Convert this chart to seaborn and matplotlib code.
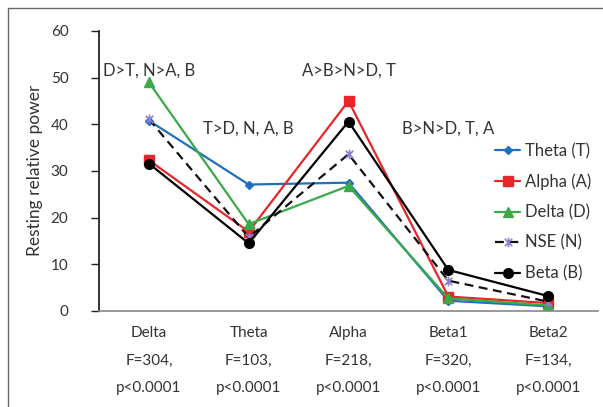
import matplotlib
matplotlib.use("Agg")
import matplotlib.pyplot as plt
import seaborn as sns
import pandas as pd
from matplotlib.path import Path
from matplotlib.lines import Line2D

# Frequency bands on the x axis, with their F / p statistics
bands = ["Delta", "Theta", "Alpha", "Beta1", "Beta2"]
f_stats = ["F=304,", "F=103,", "F=218,", "F=320,", "F=134,"]
p_stats = ["p<0.0001"] * 5

# Resting relative power per group
theta_vals = [40.8, 27.1, 27.5, 2.2, 1.0]
alpha_vals = [32.3, 17.0, 45.0, 3.1, 1.7]
delta_vals = [49.0, 18.6, 26.8, 2.7, 1.2]
nse_vals = [41.1, 15.8, 33.6, 6.5, 2.0]
beta_vals = [31.6, 14.5, 40.6, 8.8, 3.2]

# Post-hoc comparison notes above each band
notes = ["D>T, N>A, B", "T>D, N, A, B", "A>B>N>D, T", "B>N>D, T, A", ""]
note_y = [51.6, 39.1, 51.6, 39.1, 0]

# Excel-style asterisk marker (x with a vertical bar)
star = Path(
    [(-1, -1), (1, 1), (-1, 1), (1, -1), (0, -1.3), (0, 1.3)],
    [Path.MOVETO, Path.LINETO, Path.MOVETO, Path.LINETO, Path.MOVETO, Path.LINETO],
)

series = [
    ("Theta (T)", theta_vals, "#1f6fc0", "D", 4.5, "-", "#1f6fc0"),
    ("Alpha (A)", alpha_vals, "#e8262a", "s", 6.5, "-", "#e8262a"),
    ("Delta (D)", delta_vals, "#3aa94a", "^", 7, "-", "#3aa94a"),
    ("NSE (N)", nse_vals, "#111111", star, 7, (0, (4, 2.5)), "#8a7fd0"),
    ("Beta (B)", beta_vals, "#000000", "o", 7, "-", "#000000"),
]

sns.set_style("white")
plt.rcParams["font.family"] = ["Lato", "DejaVu Sans"]

W, H = 603, 407
fig = plt.figure(figsize=(W / 100, H / 100), dpi=100)
ax = fig.add_axes([99 / W, 1 - 311 / H, 499 / W, 280 / H])

x = list(range(len(bands)))
for name, vals, color, marker, ms, ls, mcolor in series:
    df = pd.DataFrame({"band": x, "power": vals})
    filled = marker is not star
    sns.lineplot(
        data=df, x="band", y="power", ax=ax, color=color, lw=1.6,
        linestyle=ls, marker=marker, markersize=ms,
        markerfacecolor=mcolor if filled else "none",
        markeredgecolor=mcolor, markeredgewidth=1.0 if filled else 1.2,
        label=name,
    )

for xi, txt, yy in zip(x, notes, note_y):
    if txt:
        ax.text(xi, yy, txt, ha="center", va="center", fontsize=12, color="#333333")

ax.set_xlim(-0.5, 4.5)
ax.set_ylim(0, 60)
ax.set_yticks(range(0, 61, 10))
ax.set_xticks(x)
ax.set_xticklabels(
    [f"{b}\n{f}\n{p}" for b, f, p in zip(bands, f_stats, p_stats)],
    linespacing=2.2, fontsize=11, color="#333333",
)
ax.tick_params(axis="x", length=0, pad=11)
ax.tick_params(axis="y", length=6, width=1, direction="out", pad=16,
               labelsize=11, labelcolor="#333333", left=True, color="#222222")
ax.set_xlabel("")
ax.set_ylabel("")
fig.text(35 / W, 1 - 170 / H, "Resting relative power", rotation=90,
         ha="center", va="center", fontsize=12.5, color="#333333")

for s in ["top", "right"]:
    ax.spines[s].set_visible(False)
ax.spines["left"].set_color("#111111")
ax.spines["left"].set_linewidth(1.2)
ax.spines["bottom"].set_color("#888888")
ax.spines["bottom"].set_linewidth(1.2)

leg = ax.legend(loc="upper left", bbox_to_anchor=(0.794, 0.60), frameon=False,
                fontsize=12, handlelength=1.5, labelspacing=0.86,
                handletextpad=0.3, borderaxespad=0, borderpad=0)
for t in leg.get_texts():
    t.set_color("#333333")

# outer frame (top and left edges only visible in the crop)
fig.add_artist(Line2D([8 / W, 8 / W], [0, 1 - 8 / H], color="#666666", lw=1))
fig.add_artist(Line2D([8 / W, 1], [1 - 8 / H, 1 - 8 / H], color="#666666", lw=1))

fig.savefig("out.png", dpi=100)
